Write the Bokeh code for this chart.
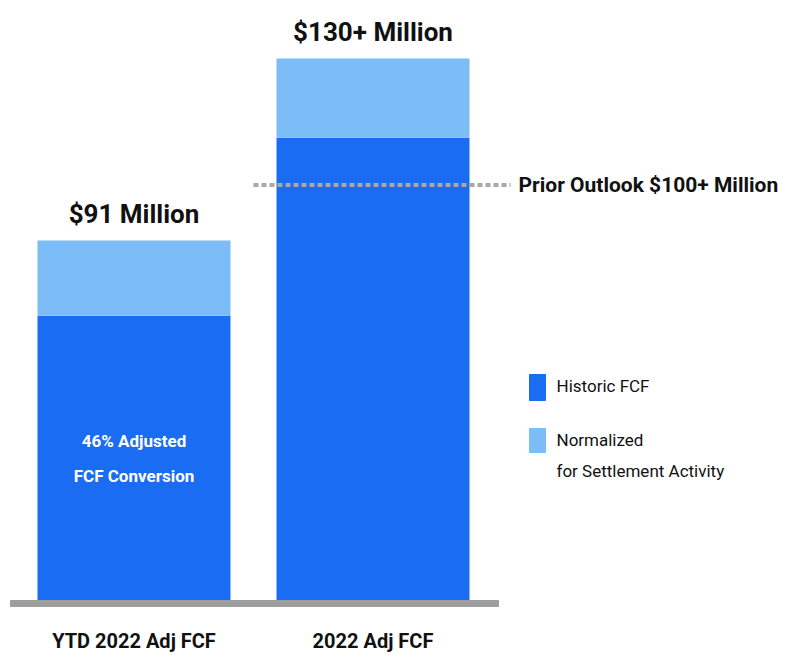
from bokeh.plotting import figure
from bokeh.models import Range1d, ColumnDataSource
from bokeh.core.properties import value
from bokeh.embed import file_html
from bokeh.resources import INLINE

categories = ["YTD 2022 Adj FCF", "2022 Adj FCF"]
historic = [72, 117]
settlement = [19, 20]
total_labels = ["$91 Million", "$130+ Million"]
outlook = 105
outlook_label = "Prior Outlook $100+ Million"
inner_note = "46% Adjusted\nFCF Conversion"
series_names = ["Historic FCF", "Normalized\nfor Settlement Activity"]

DARK = "#1A6DF2"
LIGHT = "#7DBDF7"
FONT = "Roboto"
TXT = "#111111"

W, H = 791, 661
px_per_unit = 3.956
base_px = 600
y_top = base_px / px_per_unit
y_bot = -(H - base_px) / px_per_unit


def py(pix):
    """screen y (px from top) -> data y"""
    return (base_px - pix) / px_per_unit


x0, step, bw = 133.5, 239, 193
xs = [x0 + i * step for i in range(len(categories))]
totals = [h + s for h, s in zip(historic, settlement)]

src = ColumnDataSource(dict(x=xs, cat=categories, historic=historic, settlement=settlement,
                            total=totals, tl=total_labels))

p = figure(width=W, height=H, x_range=Range1d(0, W), y_range=Range1d(y_bot, y_top),
           output_backend="svg", toolbar_location=None, min_border=0)
p.axis.visible = False
p.grid.visible = False
p.outline_line_color = None
p.background_fill_color = "white"

rs = p.vbar_stack(["historic", "settlement"], x="x", width=bw, source=src,
                  color=[DARK, LIGHT], line_color=None)

# baseline
p.quad(left=[10], right=[498], top=[0], bottom=[-6 / px_per_unit], color="#9E9E9E")

# prior outlook dotted line
p.line(x=[253, 510], y=[outlook, outlook], line_color="#A8A8A8", line_width=4, line_dash="5 3")
p.text(x=[518], y=[outlook], text=[outlook_label], text_font=value(FONT), text_font_style="bold",
       text_font_size="21px", text_baseline="middle", text_align="left", text_color=TXT)

# totals
p.text(x="x", y="total", text="tl", source=src, text_font=value(FONT), text_font_style="bold",
       text_font_size="26px", text_baseline="bottom", text_align="center",
       y_offset=-12, text_color=TXT)

# category labels
p.text(x="x", y=0, text="cat", source=src, text_font=value(FONT), text_font_style="bold",
       text_font_size="20px", text_baseline="middle", text_align="center",
       y_offset=40, text_color=TXT)

# inner note
p.text(x=[xs[0]], y=[historic[0] / 2], text=[inner_note], text_font=value(FONT),
       text_font_style="bold", text_font_size="17px", text_baseline="middle", text_align="center",
       text_line_height=1.75, text_color="white")

# legend (manual swatches + labels)
sw_left, sw_right = 529, 545
sw_tops = [374, 428]
sw_h = [26, 24]
p.quad(left=[sw_left] * 2, right=[sw_right] * 2,
       top=[py(t) for t in sw_tops], bottom=[py(t + h) for t, h in zip(sw_tops, sw_h)],
       color=[DARK, LIGHT])
p.text(x=[556] * 2, y=[py(t + 13) for t in sw_tops], text=series_names, text_font=value(FONT),
       text_font_size="17px", text_baseline="top", text_align="left",
       y_offset=-12, text_line_height=1.55, text_color=TXT)

open("out.html", "w").write(file_html(p, INLINE))
